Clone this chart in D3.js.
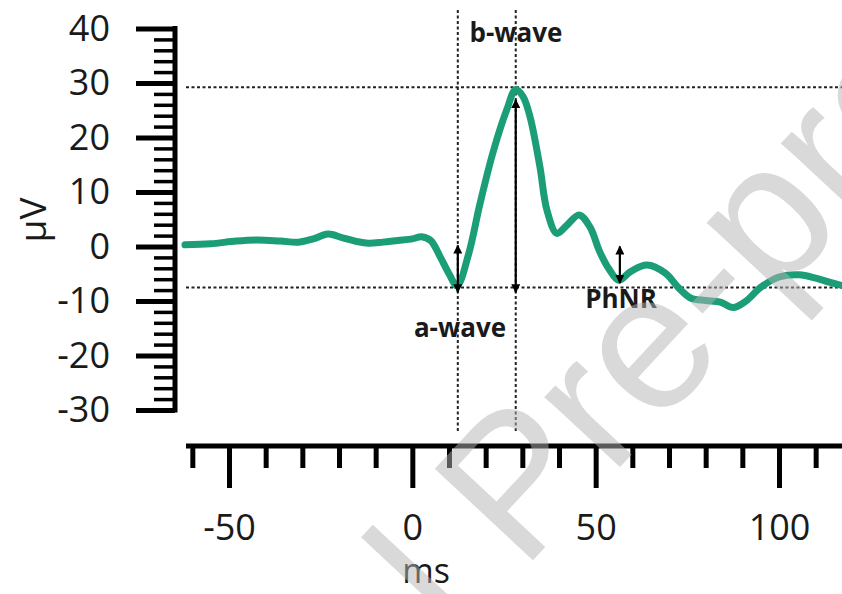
<!DOCTYPE html>
<html>
  <head>
    <meta charset="utf-8">
    <title>ERG</title>
    <script src="https://d3js.org/d3.v7.min.js"></script>
    <style>
      body { margin: 0; background: white; }
      text { font-family: "Open Sans", sans-serif; fill: #1a1a1a; }
      .trace { fill: none; stroke: #1b9e77; stroke-width: 7; stroke-linejoin: round; stroke-linecap: round; }
      .guide { stroke: #222; stroke-width: 2; stroke-dasharray: 3,2.5; fill: none; }
      .arrow { stroke: black; stroke-width: 2.2; }
      .note { font-weight: bold; font-size: 26px; text-anchor: middle; }
      .tick text { font-size: 36px; }
      .wm { font-family: "Liberation Sans", Arial, sans-serif; font-size: 195px; fill: #b4b4b4; fill-opacity: 0.5; }
    </style>
  </head>
  <body>
    <script>
      // trace (ms, µV)
      var times = [-62, -55, -48, -42, -36, -31, -27, -23, -19, -15, -12, -8, -4, 0, 2.5, 5, 7.6, 10, 12.2, 15.3,
        18.5, 22.1, 25.7, 28.2, 30.2, 32.1, 34.8, 36.7, 39.4, 42, 45.5, 48.5, 51, 53.5, 56.3, 59.5, 64, 69, 72.5,
        76, 80, 84, 87.5, 91, 95, 100, 105.5, 110, 114, 118];
      var volts = [0.3, 0.5, 1.0, 1.2, 1.0, 0.8, 1.4, 2.3, 1.6, 0.9, 0.6, 0.8, 1.1, 1.4, 1.8, 1.1, -1.9, -5.0, -7.2, -1.5,
        8.0, 17.5, 25.0, 28.8, 27.5, 23.8, 14.6, 6.7, 2.4, 3.8, 5.8, 3.5, -0.8, -4.0, -6.2, -4.6, -3.4, -4.9, -7.5,
        -9.5, -9.9, -10.2, -11.2, -10.0, -7.5, -5.6, -5.2, -5.8, -6.6, -7.3];

      var yTicks = [-30, -20, -10, 0, 10, 20, 30, 40];
      var xTicks = [-50, 0, 50, 100];

      // a-wave trough, b-wave peak, PhNR
      var markNames = ['a-wave', 'b-wave', 'PhNR'];
      var markTimes = [12.4, 28.2, 56.6];
      var markFrom = [0.2, 26.9, 0];
      var markTo = [-8.4, -8.4, -6.7];
      var levels = [29.2, -7.5];

      var W = 842, H = 594;
      var svg = d3.select('body').append('svg').attr('width', W).attr('height', H);

      var x = d3.scaleLinear().domain([-50, 100]).range([229, 779]);
      var y = d3.scaleLinear().domain([-30, 40]).range([410, 28.5]);

      var xAxisY = 446, yAxisX = 175;
      var plain = function(d){ return String(d) };

      // y axis: minor every 2, major every 10
      svg.append('g').attr('transform', 'translate(' + yAxisX + ',0)')
        .call(d3.axisLeft(y).tickValues(d3.range(-30, 41, 2).filter(function(d){ return d % 10 !== 0 }))
          .tickSize(21).tickSizeOuter(0).tickFormat(''))
        .call(function(g){ g.select('.domain').remove(); g.selectAll('line').attr('stroke-width', 3.5); });

      var ya = svg.append('g').attr('transform', 'translate(' + yAxisX + ',0)')
        .call(d3.axisLeft(y).tickValues(yTicks).tickFormat(plain).tickSize(39).tickSizeOuter(0).tickPadding(26));
      ya.selectAll('line').attr('stroke-width', 5);
      ya.select('.domain').remove();
      ya.append('line').attr('x1', 0).attr('x2', 0).attr('y1', y(40) - 2.5).attr('y2', y(-30) + 2.5)
        .attr('stroke', 'black').attr('stroke-width', 5);

      // x axis: minor every 10
      svg.append('g').attr('transform', 'translate(0,' + xAxisY + ')')
        .call(d3.axisBottom(x).tickValues(d3.range(-60, 121, 10).filter(function(d){ return d % 50 !== 0 }))
          .tickSize(22).tickSizeOuter(0).tickFormat(''))
        .call(function(g){ g.select('.domain').remove(); g.selectAll('line').attr('stroke-width', 5); });

      var xa = svg.append('g').attr('transform', 'translate(0,' + xAxisY + ')')
        .call(d3.axisBottom(x).tickValues(xTicks).tickFormat(plain).tickSize(42).tickSizeOuter(0).tickPadding(26));
      xa.selectAll('line').attr('stroke-width', 5);
      xa.select('.domain').remove();
      xa.append('line').attr('x1', 186).attr('x2', W).attr('y1', 0).attr('y2', 0)
        .attr('stroke', 'black').attr('stroke-width', 5);

      svg.append('text').attr('transform', 'translate(46,220) rotate(-90)')
        .attr('text-anchor', 'middle').attr('font-size', 37).text('µV');
      svg.append('text').attr('x', 426).attr('y', 583)
        .attr('text-anchor', 'middle').attr('font-size', 34).text('ms');

      // dotted guide lines
      svg.selectAll('.hguide').data(levels).enter().append('line').attr('class', 'guide')
        .attr('x1', 186).attr('x2', W).attr('y1', function(d){ return y(d) }).attr('y2', function(d){ return y(d) });
      svg.selectAll('.vguide').data(markTimes.slice(0, 2)).enter().append('line').attr('class', 'guide')
        .attr('x1', function(d){ return x(d) }).attr('x2', function(d){ return x(d) })
        .attr('y1', 10).attr('y2', 431);

      var line = d3.line()
        .x(function(d){ return x(d[0]) })
        .y(function(d){ return y(d[1]) })
        .curve(d3.curveCatmullRom.alpha(0.5));
      svg.append('path').datum(d3.zip(times, volts)).attr('class', 'trace').attr('d', line);

      // double headed arrows
      var defs = svg.append('defs');
      defs.append('marker').attr('id', 'head').attr('viewBox', '0 0 10 10').attr('refX', 9).attr('refY', 5)
        .attr('markerWidth', 11).attr('markerHeight', 9).attr('markerUnits', 'userSpaceOnUse')
        .attr('orient', 'auto-start-reverse')
        .append('path').attr('d', 'M0,0L10,5L0,10Z').attr('fill', 'black');

      svg.selectAll('.arrow').data(markTimes).enter().append('line').attr('class', 'arrow')
        .attr('x1', function(d){ return x(d) }).attr('x2', function(d){ return x(d) })
        .attr('y1', function(d, i){ return y(markFrom[i]) })
        .attr('y2', function(d, i){ return y(markTo[i]) })
        .attr('marker-start', 'url(#head)').attr('marker-end', 'url(#head)');

      var notePos = [[460, 337], [516, 42], [621, 308]];
      svg.selectAll('.note').data(markNames).enter().append('text').attr('class', 'note')
        .attr('x', function(d, i){ return notePos[i][0] }).attr('y', function(d, i){ return notePos[i][1] })
        .text(function(d){ return d });

      // watermark
      var wm = svg.append('text').attr('class', 'wm').text('Journal Pre-proof');
      var off = wm.node().getSubStringLength(0, 8);
      wm.attr('x', -off).attr('y', 0).attr('transform', 'translate(522,572) rotate(-47)');
    </script>
  </body>
</html>
